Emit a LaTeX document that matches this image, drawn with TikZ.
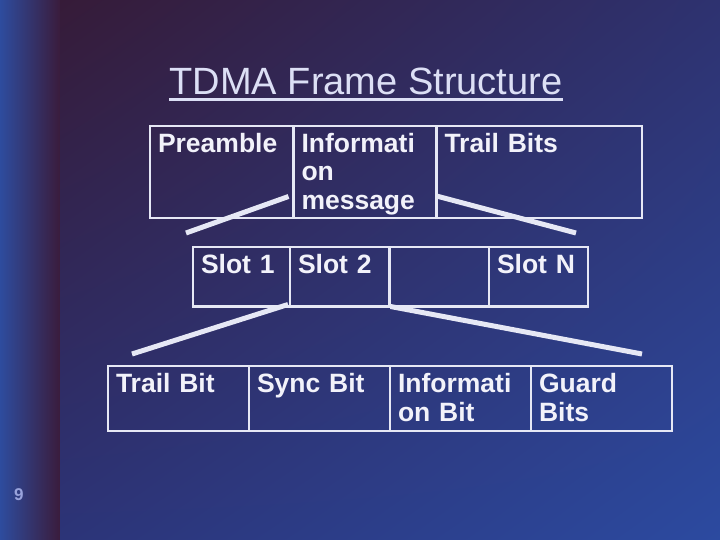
\documentclass[tikz,border=0pt]{standalone}
\usepackage{fontspec}
\setmainfont{Liberation Sans}
\usepackage{xcolor}
\usetikzlibrary{calc, shadings}

\definecolor{bgpurple}{HTML}{361B38}
\definecolor{bgmidtop}{HTML}{2E3270}
\definecolor{bgmidlow}{HTML}{2C3478}
\definecolor{bgblue}{HTML}{2C4AA0}
\definecolor{stripblue}{HTML}{2E4C9E}
\definecolor{strippurple}{HTML}{3A1C3C}
\definecolor{inkline}{HTML}{E6E8F5}
\definecolor{inktext}{HTML}{F2F2FA}
\definecolor{inktitle}{HTML}{DCDFF5}
\definecolor{inkpage}{HTML}{9AA4DC}

\begin{document}
\begin{tikzpicture}[
  x=1pt, y=-1pt,
  cell/.style={rectangle, draw=inkline, line width=2.8pt, outer sep=0pt,
               anchor=north west, inner xsep=8pt, inner ysep=0pt,
               align=left, text=inktext, text height=26.5pt,
               font=\fontsize{26.5}{28.5}\selectfont\bfseries},
  toprow/.style={cell, text depth=65.5pt},
  slotrow/.style={cell, text depth=33pt},
  bitrow/.style={cell, text depth=38.5pt, text width=125pt},
  link/.style={draw=inkline, line width=5pt}
]

% Background
\useasboundingbox (0,0) rectangle (720,540);
\shade[left color=stripblue, right color=strippurple] (0,0) rectangle (60,540);
\shade[upper left=bgpurple, upper right=bgmidtop, lower left=bgmidlow, lower right=bgblue]
  (60,0) rectangle (720,540);

% Title
\node[anchor=base, inner sep=0pt, text=inktitle,
      font=\fontsize{38}{44}\selectfont] (title) at (366,95) {TDMA Frame Structure};
\draw[inktitle, line width=2.5pt] ([yshift=-4.5pt]title.base west) -- ([yshift=-4.5pt]title.base east);

% Row 1: frame
\node[toprow, text width=127.5pt] (pre)   at (150,126)   {Preamble};
\node[toprow, text width=127pt]   (info)  at (293.5,126) {Informati\\on\\message};
\node[toprow, text width=189.5pt] (trail) at (436.5,126) {Trail Bits};

% Row 2: slots
\node[slotrow, text width=81pt]   (slot1) at (193,247)   {Slot 1};
\node[slotrow, text width=83.5pt] (slot2) at (290,247)   {Slot 2};
\node[slotrow, text width=83.5pt] (slot3) at (389.5,247) {};
\node[slotrow, text width=83pt]   (slotn) at (489,247)   {Slot N};

% Row 3: bits of one slot
\node[bitrow] (tbit)  at (108,366) {Trail Bit};
\node[bitrow] (sync)  at (249,366) {Sync Bit};
\node[bitrow] (ibit)  at (390,366) {Informati\\on Bit};
\node[bitrow] (guard) at (531,366) {Guard\\Bits};

% Page number
\node[anchor=base west, inner sep=0pt, text=inkpage,
      font=\fontsize{17}{20}\selectfont\bfseries] (page) at (14,500) {9};

% --- Lines ---
% frame -> slots
\draw[link] ([shift={(-5,-21.5)}]info.south west) -- ([shift={(-7,-14)}]slot1.north west);
\draw[link] ([shift={(0,-22)}]trail.south west) -- ([shift={(-12,-14)}]slotn.north east);

% slot -> bits
\draw[link] ([shift={(-2,-2)}]slot2.south west) -- ([shift={(24,-12)}]tbit.north west);
\draw[link] ([shift={(1,0)}]slot3.south west) -- ([shift={(-30,-12)}]guard.north east);

\end{tikzpicture}
\end{document}
